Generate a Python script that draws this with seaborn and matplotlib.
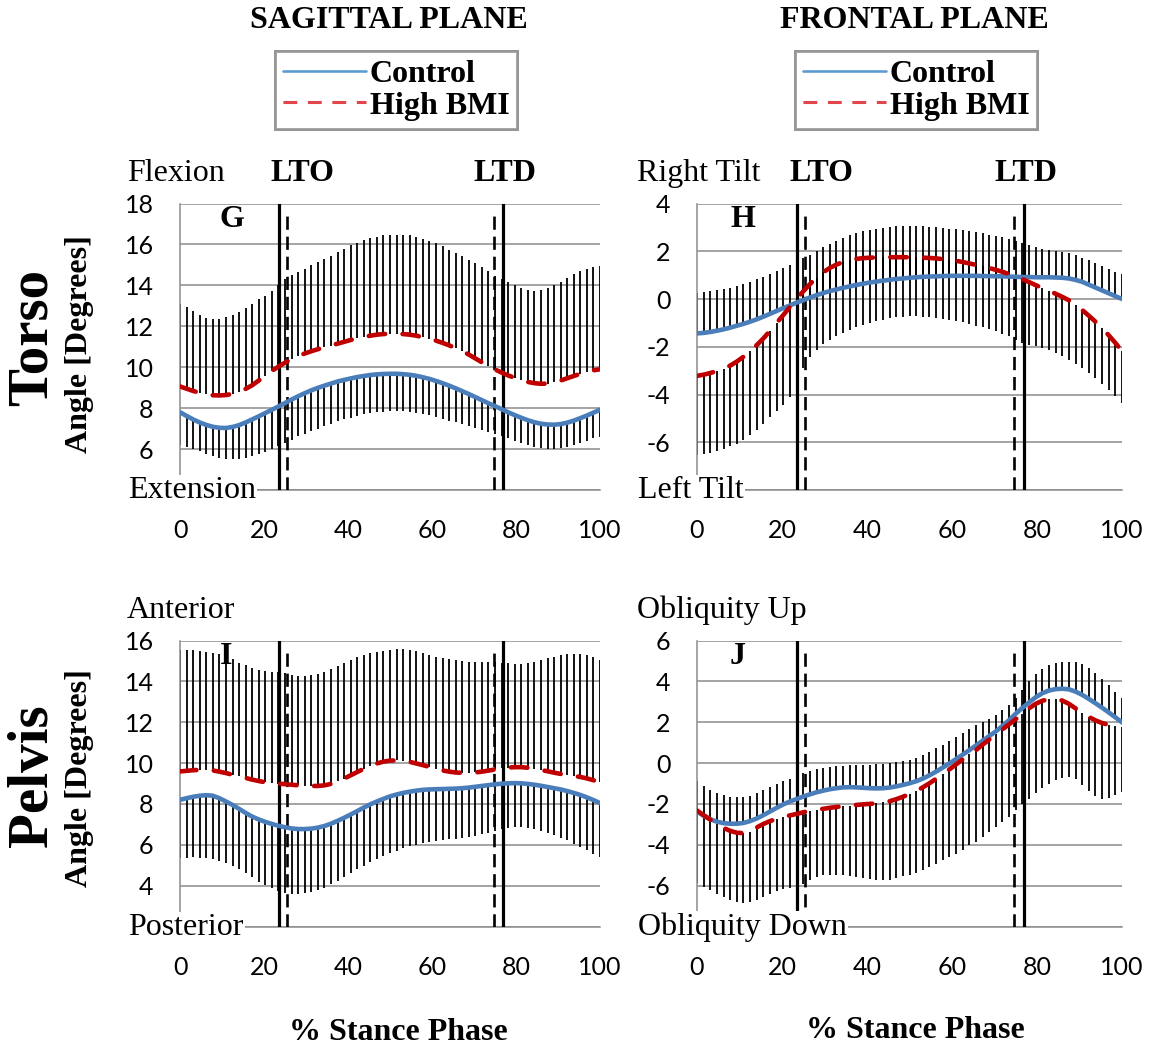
import numpy as np
import pandas as pd
import matplotlib
matplotlib.use("Agg")
import matplotlib.pyplot as plt
from matplotlib.lines import Line2D
from matplotlib.font_manager import FontProperties
import seaborn as sns

sns.set_style("white")
plt.rcParams['font.family'] = ['Liberation Serif', 'DejaVu Serif']
plt.rcParams['text.color'] = 'black'
plt.rcParams['xtick.labelcolor'] = 'black'
plt.rcParams['ytick.labelcolor'] = 'black'

# ---------------- data ----------------
PCT = np.linspace(0, 100, 65)   # % stance phase sample positions

# Torso, sagittal (G)
G_CTRL = [7.80, 7.62, 7.45, 7.30, 7.18, 7.09, 7.04, 7.03,
          7.08, 7.17, 7.30, 7.45, 7.60, 7.76, 7.92, 8.08,
          8.25, 8.42, 8.58, 8.73, 8.87, 8.99, 9.10, 9.20,
          9.30, 9.38, 9.45, 9.52, 9.57, 9.62, 9.65, 9.67,
          9.68, 9.68, 9.66, 9.63, 9.58, 9.51, 9.43, 9.33,
          9.22, 9.10, 8.97, 8.83, 8.69, 8.54, 8.39, 8.24,
          8.10, 7.95, 7.80, 7.66, 7.53, 7.41, 7.31, 7.24,
          7.20, 7.19, 7.22, 7.29, 7.39, 7.51, 7.64, 7.78,
          7.92]
G_BMI = [9.06, 8.95, 8.84, 8.75, 8.68, 8.63, 8.62, 8.64,
         8.70, 8.80, 8.94, 9.12, 9.35, 9.58, 9.82, 10.03,
         10.22, 10.40, 10.54, 10.67, 10.78, 10.88, 10.97, 11.06,
         11.15, 11.24, 11.33, 11.41, 11.48, 11.54, 11.59, 11.62,
         11.64, 11.64, 11.62, 11.59, 11.54, 11.47, 11.39, 11.30,
         11.19, 11.07, 10.94, 10.79, 10.62, 10.43, 10.24, 10.06,
         9.89, 9.74, 9.60, 9.48, 9.37, 9.28, 9.22, 9.19,
         9.20, 9.26, 9.35, 9.46, 9.57, 9.68, 9.77, 9.85,
         9.90]
G_CTRL_BAR = [6.20, 6.12, 6.02, 5.90, 5.78, 5.68, 5.58, 5.52,
              5.50, 5.52, 5.58, 5.66, 5.76, 5.88, 6.00, 6.13,
              6.30, 6.46, 6.62, 6.76, 6.88, 7.00, 7.12, 7.24,
              7.35, 7.45, 7.54, 7.62, 7.69, 7.75, 7.80, 7.83,
              7.85, 7.85, 7.84, 7.81, 7.77, 7.72, 7.65, 7.57,
              7.48, 7.39, 7.30, 7.21, 7.12, 7.03, 6.94, 6.85,
              6.76, 6.65, 6.53, 6.41, 6.29, 6.18, 6.09, 6.03,
              6.00, 6.00, 6.03, 6.10, 6.20, 6.30, 6.41, 6.52,
              6.61]
G_BMI_BAR = [13.11, 12.95, 12.73, 12.57, 12.41, 12.38, 12.38, 12.46,
             12.57, 12.70, 12.90, 13.07, 13.31, 13.50, 13.70, 14.00,
             14.30, 14.50, 14.65, 14.82, 14.98, 15.13, 15.28, 15.45,
             15.62, 15.80, 15.95, 16.08, 16.20, 16.30, 16.38, 16.45,
             16.48, 16.48, 16.48, 16.44, 16.37, 16.27, 16.16, 16.05,
             15.92, 15.75, 15.59, 15.43, 15.24, 15.07, 14.91, 14.70,
             14.46, 14.33, 14.17, 14.00, 13.85, 13.75, 13.72, 13.75,
             13.85, 14.00, 14.17, 14.38, 14.54, 14.70, 14.82, 14.90,
             14.95]

# Torso, frontal (H)
H_CTRL = [-1.44, -1.42, -1.38, -1.33, -1.27, -1.20, -1.12, -1.04,
          -0.95, -0.85, -0.74, -0.62, -0.50, -0.38, -0.27, -0.15,
          -0.05, 0.06, 0.16, 0.25, 0.33, 0.40, 0.47, 0.53,
          0.59, 0.64, 0.69, 0.73, 0.77, 0.80, 0.84, 0.86,
          0.89, 0.91, 0.93, 0.94, 0.95, 0.96, 0.97, 0.97,
          0.97, 0.97, 0.97, 0.96, 0.96, 0.95, 0.95, 0.94,
          0.93, 0.92, 0.92, 0.91, 0.91, 0.91, 0.90, 0.89,
          0.86, 0.80, 0.72, 0.60, 0.48, 0.36, 0.24, 0.12,
          0.00]
H_BMI = [-3.22, -3.17, -3.10, -3.02, -2.92, -2.79, -2.62, -2.42,
         -2.19, -1.93, -1.65, -1.33, -1.00, -0.67, -0.33, 0.00,
         0.32, 0.62, 0.90, 1.12, 1.30, 1.44, 1.55, 1.63,
         1.68, 1.71, 1.73, 1.74, 1.75, 1.75, 1.75, 1.75,
         1.75, 1.74, 1.73, 1.72, 1.70, 1.67, 1.64, 1.60,
         1.55, 1.49, 1.43, 1.37, 1.30, 1.22, 1.14, 1.04,
         0.94, 0.83, 0.71, 0.58, 0.46, 0.34, 0.22, 0.09,
         -0.05, -0.25, -0.46, -0.70, -0.95, -1.22, -1.52, -1.84,
         -2.18]
H_CTRL_BAR = [0.24, 0.28, 0.32, 0.36, 0.42, 0.48, 0.55, 0.62,
              0.72, 0.82, 0.92, 1.05, 1.18, 1.30, 1.42, 1.55,
              1.70, 1.85, 2.02, 2.18, 2.32, 2.45, 2.57, 2.67,
              2.76, 2.84, 2.90, 2.95, 2.99, 3.02, 3.04, 3.05,
              3.05, 3.05, 3.04, 3.02, 3.00, 2.98, 2.95, 2.92,
              2.88, 2.84, 2.80, 2.75, 2.70, 2.64, 2.58, 2.51,
              2.44, 2.36, 2.28, 2.18, 2.08, 2.05, 2.02, 1.97,
              1.91, 1.83, 1.73, 1.62, 1.49, 1.38, 1.25, 1.14,
              1.03]
H_BMI_BAR = [-6.55, -6.50, -6.44, -6.36, -6.27, -6.17, -6.06, -5.90,
             -5.70, -5.47, -5.22, -4.96, -4.70, -4.42, -4.10, -3.60,
             -2.90, -2.42, -2.12, -1.90, -1.72, -1.56, -1.42, -1.30,
             -1.18, -1.08, -0.99, -0.92, -0.86, -0.81, -0.77, -0.75,
             -0.73, -0.73, -0.74, -0.76, -0.79, -0.83, -0.87, -0.92,
             -0.98, -1.04, -1.11, -1.19, -1.27, -1.36, -1.46, -1.57,
             -1.72, -1.84, -1.93, -1.98, -2.05, -2.15, -2.26, -2.40,
             -2.55, -2.71, -2.90, -3.10, -3.32, -3.55, -3.80, -4.07,
             -4.36]

# Pelvis, sagittal (I)
I_CTRL = [8.20, 8.28, 8.35, 8.40, 8.43, 8.40, 8.28, 8.12,
          7.95, 7.76, 7.56, 7.38, 7.24, 7.12, 7.02, 6.93,
          6.86, 6.80, 6.77, 6.77, 6.79, 6.84, 6.92, 7.03,
          7.17, 7.32, 7.48, 7.65, 7.82, 7.98, 8.12, 8.25,
          8.37, 8.46, 8.54, 8.60, 8.65, 8.69, 8.71, 8.72,
          8.73, 8.74, 8.75, 8.77, 8.80, 8.84, 8.88, 8.92,
          8.96, 8.99, 9.01, 9.02, 9.01, 8.98, 8.94, 8.89,
          8.83, 8.77, 8.71, 8.63, 8.54, 8.44, 8.32, 8.19,
          8.04]
I_BMI = [9.59, 9.62, 9.65, 9.67, 9.67, 9.64, 9.58, 9.51,
         9.43, 9.35, 9.27, 9.19, 9.12, 9.06, 9.02, 8.99,
         8.97, 8.94, 8.91, 8.89, 8.88, 8.88, 8.91, 8.98,
         9.10, 9.24, 9.40, 9.56, 9.72, 9.86, 9.98, 10.07,
         10.12, 10.13, 10.11, 10.06, 9.98, 9.90, 9.81, 9.72,
         9.64, 9.58, 9.54, 9.52, 9.52, 9.54, 9.58, 9.63,
         9.69, 9.74, 9.78, 9.80, 9.80, 9.77, 9.72, 9.66,
         9.60, 9.53, 9.47, 9.42, 9.37, 9.32, 9.25, 9.16,
         9.05]
I_CTRL_BAR = [5.35, 5.37, 5.38, 5.36, 5.33, 5.29, 5.22, 5.12,
              4.98, 4.80, 4.62, 4.40, 4.20, 4.02, 3.88, 3.76,
              3.66, 3.60, 3.59, 3.62, 3.68, 3.77, 3.90, 4.06,
              4.24, 4.44, 4.62, 4.80, 4.98, 5.14, 5.30, 5.45,
              5.59, 5.71, 5.82, 5.92, 6.00, 6.07, 6.13, 6.18,
              6.22, 6.26, 6.29, 6.33, 6.38, 6.44, 6.51, 6.59,
              6.68, 6.76, 6.82, 6.86, 6.86, 6.82, 6.75, 6.67,
              6.57, 6.46, 6.34, 6.21, 6.06, 5.90, 5.73, 5.56,
              5.40]
I_BMI_BAR = [15.55, 15.54, 15.52, 15.49, 15.45, 15.40, 15.32, 15.22,
             15.08, 14.92, 14.78, 14.66, 14.57, 14.50, 14.46, 14.44,
             14.40, 14.33, 14.28, 14.27, 14.30, 14.37, 14.48, 14.62,
             14.77, 14.92, 15.05, 15.17, 15.28, 15.37, 15.44, 15.49,
             15.53, 15.57, 15.58, 15.55, 15.48, 15.38, 15.28, 15.20,
             15.13, 15.08, 15.03, 15.00, 14.97, 14.95, 14.94, 14.94,
             14.93, 14.91, 14.88, 14.86, 14.87, 14.90, 14.96, 15.04,
             15.13, 15.21, 15.28, 15.33, 15.35, 15.34, 15.30, 15.20,
             15.05]

# Pelvis, frontal (J)
J_CTRL = [-2.37, -2.58, -2.75, -2.87, -2.94, -2.97, -2.97, -2.93,
          -2.84, -2.71, -2.55, -2.37, -2.19, -2.02, -1.88, -1.76,
          -1.64, -1.53, -1.43, -1.35, -1.28, -1.23, -1.19, -1.18,
          -1.19, -1.21, -1.23, -1.24, -1.23, -1.20, -1.14, -1.07,
          -0.99, -0.89, -0.76, -0.60, -0.42, -0.22, -0.02, 0.19,
          0.41, 0.63, 0.86, 1.09, 1.32, 1.55, 1.82, 2.10,
          2.42, 2.70, 2.97, 3.22, 3.42, 3.55, 3.62, 3.64,
          3.61, 3.50, 3.34, 3.14, 2.93, 2.71, 2.48, 2.24,
          1.99]
J_BMI = [-2.32, -2.55, -2.77, -2.98, -3.17, -3.32, -3.41, -3.43,
         -3.36, -3.15, -2.98, -2.84, -2.73, -2.64, -2.56, -2.49,
         -2.41, -2.33, -2.28, -2.24, -2.19, -2.15, -2.11, -2.08,
         -2.05, -2.02, -2.00, -1.97, -1.93, -1.87, -1.77, -1.65,
         -1.52, -1.37, -1.19, -0.99, -0.77, -0.54, -0.31, -0.07,
         0.18, 0.42, 0.63, 0.90, 1.15, 1.40, 1.65, 1.90,
         2.15, 2.42, 2.68, 2.90, 3.05, 3.13, 3.13, 3.06,
         2.90, 2.68, 2.46, 2.26, 2.09, 1.96, 1.87, 1.80,
         1.76]
J_CTRL_BAR = [-0.90, -1.10, -1.30, -1.45, -1.56, -1.64, -1.67, -1.66,
              -1.60, -1.48, -1.33, -1.17, -1.03, -0.89, -0.76, -0.60,
              -0.47, -0.38, -0.30, -0.23, -0.18, -0.15, -0.13, -0.11,
              -0.10, -0.08, -0.07, -0.06, -0.04, -0.02, 0.03, 0.09,
              0.15, 0.26, 0.40, 0.55, 0.72, 0.90, 1.08, 1.27,
              1.47, 1.67, 1.85, 2.02, 2.18, 2.35, 2.58, 2.85,
              3.20, 3.60, 4.02, 4.38, 4.62, 4.78, 4.88, 4.94,
              4.97, 4.94, 4.85, 4.66, 4.42, 4.13, 3.82, 3.50,
              3.18]
J_BMI_BAR = [-5.88, -6.05, -6.22, -6.40, -6.57, -6.72, -6.82, -6.85,
             -6.82, -6.70, -6.54, -6.40, -6.28, -6.18, -6.12, -6.14,
             -5.90, -5.72, -5.58, -5.50, -5.47, -5.47, -5.50, -5.53,
             -5.58, -5.63, -5.68, -5.72, -5.74, -5.70, -5.63, -5.54,
             -5.46, -5.36, -5.22, -5.08, -4.92, -4.76, -4.62, -4.44,
             -4.24, -4.03, -3.84, -3.61, -3.38, -3.14, -2.88, -2.62,
             -2.32, -2.02, -1.74, -1.47, -1.24, -1.03, -0.85, -0.72,
             -0.68, -0.78, -1.05, -1.35, -1.62, -1.78, -1.72, -1.58,
             -1.40]

# event lines (% stance)
LTO_SOLID, LTO_DASH = 23.6, 25.4
LTD_DASH, LTD_SOLID = 74.7, 77.0
LTO_LABEL_X, LTD_LABEL_X = 29.2, 77.3

X_TICKS = [0, 20, 40, 60, 80, 100]
SERIES = ["Control", "High BMI"]
COL_TITLES = ["SAGITTAL PLANE", "FRONTAL PLANE"]

# ---------------- figure ----------------
W, H = 1155, 1050
fig = plt.figure(figsize=(W / 100, H / 100), dpi=100)

BLUE = "#4A7EBB"
RED = "#C00000"
GRID = "#8C8C8C"
NUMFONT = "Lato"
FS = 23


def fx(x):
    return x / W


def fy(y):
    return 1 - y / H


panels = [
    dict(rect=(180, 203.5, 600, 490), ylim=(4, 18), ctrl=G_CTRL, bmi=G_BMI,
         cbar=G_CTRL_BAR, bbar=G_BMI_BAR, top="Flexion", bottom="Extension",
         letter="G", letter_xy=(232, 219), events=True, lbl_x=127),
    dict(rect=(697, 203.5, 1122, 490), ylim=(-8, 4), ctrl=H_CTRL, bmi=H_BMI,
         cbar=H_CTRL_BAR, bbar=H_BMI_BAR, top="Right Tilt", bottom="Left Tilt",
         letter="H", letter_xy=(743, 219), events=True, lbl_x=637),
    dict(rect=(180, 640.5, 600, 926.5), ylim=(2, 16), ctrl=I_CTRL, bmi=I_BMI,
         cbar=I_CTRL_BAR, bbar=I_BMI_BAR, top="Anterior", bottom="Posterior",
         letter="I", letter_xy=(226, 656), events=False, lbl_x=127),
    dict(rect=(697, 640.5, 1122, 926.5), ylim=(-8, 6), ctrl=J_CTRL, bmi=J_BMI,
         cbar=J_CTRL_BAR, bbar=J_BMI_BAR, top="Obliquity Up", bottom="Obliquity Down",
         letter="J", letter_xy=(738, 657), events=False, lbl_x=637),
]

for p in panels:
    x0, y0, x1, y1 = p["rect"]
    ax = fig.add_axes([fx(x0), fy(y1), (x1 - x0) / W, (y1 - y0) / H])
    ymin, ymax = p["ylim"]
    ax.set_xlim(0, 100)
    ax.set_ylim(ymin, ymax)

    # error bars (one-sided), drawn with data coordinates
    ax.vlines(PCT, p["ctrl"], p["cbar"], color="black", lw=1.3, zorder=2)
    ax.vlines(PCT, p["bmi"], p["bbar"], color="black", lw=1.3, zorder=2)

    # gait event lines
    ax.axvline(LTO_SOLID, color="black", lw=2.3, zorder=4)
    ax.axvline(LTD_SOLID, color="black", lw=2.3, zorder=4)
    ax.axvline(LTO_DASH, color="black", lw=1.9, ls=(0, (5, 2.6)), zorder=4,
               ymax=0.975)
    ax.axvline(LTD_DASH, color="black", lw=1.9, ls=(0, (5, 2.6)), zorder=4,
               ymax=0.975)

    df = pd.DataFrame({"pct": PCT, "Control": p["ctrl"], "High BMI": p["bmi"]})
    sns.lineplot(data=df, x="pct", y="Control", ax=ax, color=BLUE, lw=3.3,
                 solid_capstyle="round", zorder=5, legend=False, estimator=None)
    sns.lineplot(data=df, x="pct", y="High BMI", ax=ax, color=RED, lw=3.3,
                 linestyle=(0, (3.6, 3.8)), dash_capstyle="round", zorder=6,
                 legend=False, estimator=None)

    yt = list(range(ymin, ymax + 1, 2))
    ax.set_yticks(yt)
    ax.set_yticklabels([""] + [str(v) for v in yt[1:]])
    ax.set_xticks(X_TICKS)
    ax.set_xticklabels([str(v) for v in X_TICKS])
    ax.set_xlabel("")
    ax.set_ylabel("")
    ax.yaxis.grid(True, color=GRID, lw=1.1, zorder=0)
    ax.xaxis.grid(False)
    ax.set_axisbelow(True)
    for s in ("top", "right"):
        ax.spines[s].set_visible(False)
    for s in ("left", "bottom"):
        ax.spines[s].set_color(GRID)
        ax.spines[s].set_linewidth(1.1)
    ax.tick_params(axis="y", length=6, width=1.1, color=GRID, pad=13,
                   labelsize=18, direction="out", labelcolor="black")
    ax.tick_params(axis="x", length=5, width=1.1, color=GRID, pad=16,
                   labelsize=18, direction="out", labelcolor="black")
    for lab in ax.get_xticklabels() + ax.get_yticklabels():
        lab.set_fontfamily(NUMFONT)

    # top / bottom descriptive labels
    fig.text(fx(p["lbl_x"]), fy(y0 - 30), p["top"], fontsize=FS,
             ha="left", va="center", color="black")
    fig.text(fx(p["lbl_x"] + 1), fy(y1 + 1), p["bottom"], fontsize=FS,
             ha="left", va="center", zorder=10, color="black",
             bbox=dict(facecolor="white", edgecolor="none", pad=1.0))
    fig.text(fx(p["letter_xy"][0]), fy(p["letter_xy"][1]), p["letter"],
             fontsize=FS, fontweight="bold", ha="center", va="center",
             color="black")

    if p["events"]:
        span = x1 - x0
        fig.text(fx(x0 + span * LTO_LABEL_X / 100), fy(y0 - 30), "LTO",
                 fontsize=FS, fontweight="bold", ha="center", va="center",
                 color="black")
        fig.text(fx(x0 + span * LTD_LABEL_X / 100), fy(y0 - 30), "LTD",
                 fontsize=FS, fontweight="bold", ha="center", va="center",
                 color="black")

# column titles and legends
for cx, title in zip([389, 914], COL_TITLES):
    fig.text(fx(cx), fy(20), title, fontsize=FS, fontweight="bold",
             ha="center", va="center", color="black")

handles = [Line2D([], [], color="#5B9BD5", lw=1.8),
           Line2D([], [], color="#E0464B", lw=2.2, ls=(0, (4.5, 3.5)))]
for cx in [396, 916]:
    leg = fig.legend(handles, SERIES, loc="center",
                     bbox_to_anchor=(fx(cx), fy(90)),
                     prop=FontProperties(family="Liberation Serif", weight="bold", size=FS),
                     frameon=True, fancybox=False, edgecolor="#8C8C8C",
                     handlelength=2.6, handletextpad=0.12, labelspacing=0.08,
                     borderpad=0.25, borderaxespad=0, labelcolor="black")
    leg.get_frame().set_linewidth(2.0)
    fig.add_artist(leg)

# row labels
for cy, name in [(337, "Torso"), (776, "Pelvis")]:
    fig.text(fx(33), fy(cy), name, fontsize=41, fontweight="bold",
             rotation=90, ha="center", va="center", color="black")
for cy in [344, 778]:
    fig.text(fx(79), fy(cy), "Angle [Degrees]", fontsize=FS, fontweight="bold",
             rotation=90, ha="center", va="center", color="black")

# x labels
fig.text(fx(398), fy(1033), "% Stance Phase", fontsize=FS, fontweight="bold",
         ha="center", va="center", color="black")
fig.text(fx(915), fy(1030), "% Stance Phase", fontsize=FS, fontweight="bold",
         ha="center", va="center", color="black")

fig.savefig("out.png", dpi=100, facecolor="white")
